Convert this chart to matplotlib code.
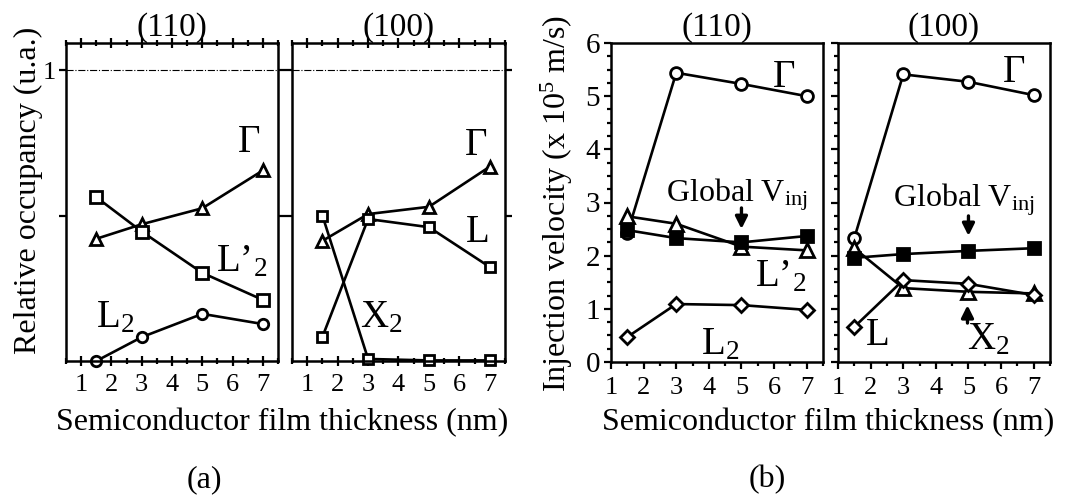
import matplotlib
matplotlib.use("Agg")
import matplotlib.pyplot as plt
from matplotlib.ticker import MultipleLocator

plt.rcParams['font.family'] = ['Liberation Serif', 'DejaVu Serif']
plt.rcParams['mathtext.fontset'] = 'custom'
plt.rcParams['mathtext.rm'] = 'Liberation Serif'
plt.rcParams['mathtext.it'] = 'Liberation Serif:italic'
plt.rcParams['mathtext.bf'] = 'Liberation Serif:bold'

# film thickness (nm)
thickness = [1.5, 3, 5, 7]

# (a) relative occupancy
occ110_gamma = [0.42, 0.47, 0.525, 0.655]
occ110_lp2 = [0.563, 0.445, 0.303, 0.21]
occ110_l2 = [0.0, 0.082, 0.162, 0.127]
occ100_gamma = [0.413, 0.505, 0.53, 0.668]
occ100_l = [0.083, 0.488, 0.46, 0.323]
occ100_x2 = [0.5, 0.007, 0.002, 0.002]

# (b) injection velocity (x 1e5 m/s)
vel110_gamma = [2.42, 5.44, 5.23, 5.0]
vel110_lp2 = [2.74, 2.6, 2.17, 2.1]
vel110_global = [2.48, 2.33, 2.25, 2.37]
vel110_l2 = [0.47, 1.09, 1.07, 0.98]
vel100_gamma = [2.33, 5.41, 5.27, 5.02]
vel100_global = [1.96, 2.03, 2.09, 2.14]
vel100_x2 = [2.14, 1.39, 1.32, 1.29]
vel100_l = [0.66, 1.54, 1.47, 1.26]

xticks = [1, 2, 3, 4, 5, 6, 7]

fig = plt.figure(figsize=(10.88, 4.95), dpi=100)
W, H = 1088, 495


def add_ax(l, r, t, b):
    return fig.add_axes([l / W, 1 - b / H, (r - l) / W, (b - t) / H])


ax1 = add_ax(66, 278, 43, 361)
ax2 = add_ax(292, 505, 43, 361)
ax3 = add_ax(611, 823, 43, 362)
ax4 = add_ax(838, 1050, 43, 362)

line_kw = dict(color='black', lw=1.9, mew=2.0, mec='black', clip_on=False)
open_kw = dict(mfc='white', **line_kw)
fill_kw = dict(mfc='black', **line_kw)
arrow_kw = dict(arrowstyle='-|>', color='black', lw=2.4, mutation_scale=18)

# ---- (a) occupancy
for ax in (ax1, ax2):
    ax.set_xlim(0.5, 7.5)
    ax.set_ylim(0, 1.093)
    ax.axhline(1, color='black', lw=0.8, ls='-.')
    ax.set_xticks(xticks)
    ax.xaxis.set_minor_locator(MultipleLocator(0.5))
    ax.tick_params(axis='x', which='both', direction='inout', top=True,
                   labelsize=19, width=1.6, pad=6)
    ax.tick_params(axis='x', which='major', length=7)
    ax.tick_params(axis='x', which='minor', length=4)
    ax.set_yticks([0.5, 1])
    ax.tick_params(axis='y', direction='out', length=5, width=1.6,
                   labelsize=19, right=True, pad=2)
    for s in ax.spines.values():
        s.set_linewidth(1.8)

ax1.set_yticklabels(['', '1'])
ax2.set_yticklabels(['', ''])

ax1.plot(thickness, occ110_gamma, marker='^', ms=8.5, **open_kw)
ax1.plot(thickness, occ110_lp2, marker='s', ms=8.5, **open_kw)
ax1.plot(thickness, occ110_l2, marker='o', ms=7.5, **open_kw)
ax1.text(6.55, 0.75, 'Γ', fontsize=28, ha='center', va='center')
ax1.text(5.45, 0.34, r"$\mathregular{L’_{2}}$", fontsize=28, ha='left', va='center')
ax1.text(1.5, 0.15, r"$\mathregular{L_{2}}$", fontsize=28, ha='left', va='center')

ax2.plot(thickness, occ100_gamma, marker='^', ms=8.5, **open_kw)
ax2.plot(thickness, occ100_l, marker='s', ms=7.5, **open_kw)
ax2.plot(thickness, occ100_x2, marker='s', ms=7.5, **open_kw)
ax2.text(6.55, 0.74, 'Γ', fontsize=28, ha='center', va='center')
ax2.text(6.6, 0.44, 'L', fontsize=28, ha='center', va='center')
ax2.text(2.75, 0.15, r"$\mathregular{X_{2}}$", fontsize=28, ha='left', va='center')

ax1.set_title('(110)', fontsize=24, pad=4)
ax2.set_title('(100)', fontsize=24, pad=4)

# ---- (b) injection velocity
for ax in (ax3, ax4):
    ax.set_xlim(1, 7.5)
    ax.set_ylim(0, 6)
    ax.set_xticks(xticks)
    ax.xaxis.set_minor_locator(MultipleLocator(0.5))
    ax.set_yticks(range(0, 7))
    ax.yaxis.set_minor_locator(MultipleLocator(0.25))
    ax.tick_params(which='both', direction='out', width=1.6, labelsize=19)
    ax.tick_params(which='major', length=5)
    ax.tick_params(which='minor', length=3)
    ax.tick_params(axis='x', pad=6)
    for s in ax.spines.values():
        s.set_linewidth(1.8)

ax3.tick_params(axis='y', labelsize=21, pad=3)
ax4.set_yticklabels([])

ax3.plot(thickness, vel110_gamma, marker='o', ms=8.5, **open_kw)
ax3.plot(thickness, vel110_lp2, marker='^', ms=9.5, **open_kw)
ax3.plot(thickness, vel110_global, marker='s', ms=8.5, **fill_kw)
ax3.plot(thickness, vel110_l2, marker='D', ms=7.5, **open_kw)
ax3.text(6.3, 5.36, 'Γ', fontsize=28, ha='center', va='center')
ax3.text(2.7, 3.14, r"$\mathregular{Global\ V_{inj}}$", fontsize=23, ha='left', va='center')
ax3.annotate('', xy=(5, 2.45), xytext=(5, 2.95), arrowprops=arrow_kw)
ax3.text(5.4, 1.6, r"$\mathregular{L’_{2}}$", fontsize=28, ha='left', va='center')
ax3.text(3.75, 0.32, r"$\mathregular{L_{2}}$", fontsize=28, ha='left', va='center')

ax4.plot(thickness, vel100_gamma, marker='o', ms=8.5, **open_kw)
ax4.plot(thickness, vel100_x2, marker='^', ms=9.5, **open_kw)
ax4.plot(thickness, vel100_l, marker='D', ms=7.5, **open_kw)
ax4.plot(thickness, vel100_global, marker='s', ms=8.5, **fill_kw)
ax4.text(6.4, 5.45, 'Γ', fontsize=28, ha='center', va='center')
ax4.text(2.7, 3.05, r"$\mathregular{Global\ V_{inj}}$", fontsize=23, ha='left', va='center')
ax4.annotate('', xy=(5, 2.32), xytext=(5, 2.8), arrowprops=arrow_kw)
ax4.annotate('', xy=(4.97, 1.12), xytext=(4.97, 0.68), arrowprops=arrow_kw)
ax4.text(1.85, 0.49, 'L', fontsize=28, ha='left', va='center')
ax4.text(4.95, 0.42, r"$\mathregular{X_{2}}$", fontsize=28, ha='left', va='center')

ax3.set_title('(110)', fontsize=24, pad=1)
ax4.set_title('(100)', fontsize=24, pad=1)

# ---- shared labels
fig.text(28 / W, 1 - 190 / H, 'Relative occupancy (u.a.)', rotation=90,
         fontsize=23, ha='center', va='center')
fig.text(557 / W, 1 - 203 / H, r'Injection velocity (x 10$^{\mathregular{5}}$ m/s)',
         rotation=90, fontsize=23, ha='center', va='center')
fig.text(282 / W, 1 - 423 / H, 'Semiconductor film thickness (nm)',
         fontsize=23, ha='center', va='center')
fig.text(828 / W, 1 - 423 / H, 'Semiconductor film thickness (nm)',
         fontsize=23, ha='center', va='center')
fig.text(204 / W, 1 - 480 / H, '(a)', fontsize=23, ha='center', va='center')
fig.text(767 / W, 1 - 480 / H, '(b)', fontsize=23, ha='center', va='center')

fig.savefig('out.png', dpi=100)
